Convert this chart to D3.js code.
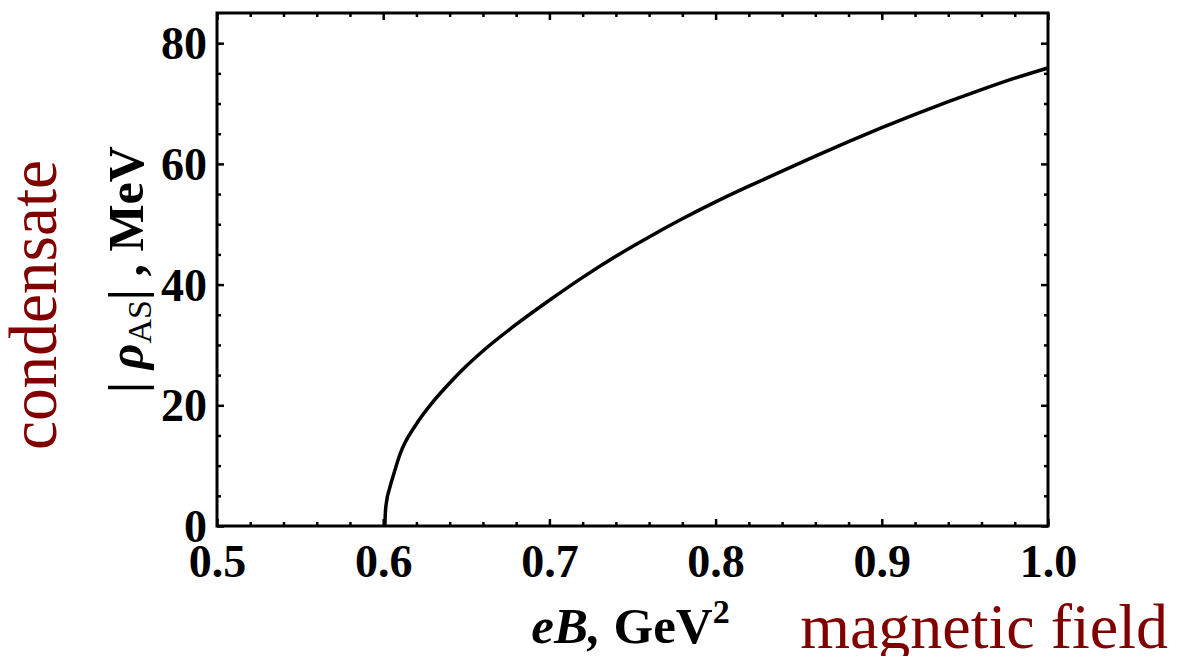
<!DOCTYPE html>
<html>
<head>
<meta charset="utf-8">
<script src="https://cdn.jsdelivr.net/npm/d3@7"></script>
<style>
  body { margin: 0; background: #fff; }
  svg { display: block; }
  .tick text { font-family: "Liberation Serif", serif; font-weight: bold; }
</style>
</head>
<body>
<svg width="1180" height="656"></svg>
<script>
// curve: eB (GeV^2) vs |rho_AS| (MeV)
var eB  = [0.601, 0.6013, 0.602, 0.604, 0.607, 0.610, 0.620, 0.630, 0.640, 0.650, 0.660, 0.680,
           0.700, 0.720, 0.740, 0.760, 0.780, 0.800, 0.820, 0.840, 0.860, 0.880,
           0.900, 0.920, 0.940, 0.960, 0.980, 1.000];
var rho = [0, 2.2, 4.0, 6.4, 9.2, 11.8, 16.9, 20.6, 23.7, 26.5, 29.0, 33.4,
           37.4, 41.2, 44.7, 47.9, 50.9, 53.7, 56.3, 58.8, 61.3, 63.7,
           66.0, 68.2, 70.3, 72.3, 74.2, 75.9];

var xTicks = [0.5, 0.6, 0.7, 0.8, 0.9, 1.0];
var yTicks = [0, 20, 40, 60, 80];
var xDomain = [0.5, 1.0];
var yDomain = [0, 85];

var svg = d3.select("svg"),
    margin = {top: 13, right: 132, bottom: 130, left: 217},
    width = +svg.attr("width") - margin.left - margin.right,
    height = +svg.attr("height") - margin.top - margin.bottom,
    g = svg.append("g").attr("transform", "translate(" + margin.left + "," + margin.top + ")");

var x = d3.scaleLinear().domain(xDomain).range([0, width]);
var y = d3.scaleLinear().domain(yDomain).range([height, 0]);

var xMinor = d3.range(0.52, 1.0, 0.02).filter(function(v) { return Math.abs(v * 10 - Math.round(v * 10)) > 1e-6; });
var yMinor = d3.range(5, 85, 5).filter(function(v) { return v % 20 !== 0; });

function styleAxis(sel) {
  sel.select(".domain").remove();
  sel.selectAll(".tick line").attr("stroke", "#000").attr("stroke-width", 2.5);
}

// minor ticks, all four sides
g.append("g").attr("transform", "translate(0," + height + ")")
  .call(d3.axisBottom(x).tickValues(xMinor).tickSize(-4).tickFormat("")).call(styleAxis);
g.append("g")
  .call(d3.axisTop(x).tickValues(xMinor).tickSize(-4).tickFormat("")).call(styleAxis);
g.append("g")
  .call(d3.axisLeft(y).tickValues(yMinor).tickSize(-4).tickFormat("")).call(styleAxis);
g.append("g").attr("transform", "translate(" + width + ",0)")
  .call(d3.axisRight(y).tickValues(yMinor).tickSize(-4).tickFormat("")).call(styleAxis);

// major ticks
g.append("g").attr("transform", "translate(0," + height + ")")
  .call(d3.axisBottom(x).tickValues(xTicks).tickSize(-7).tickFormat(d3.format(".1f")))
  .call(styleAxis)
  .selectAll("text")
    .attr("font-size", 46)
    .attr("fill", "#000")
    .attr("y", 51)
    .attr("dy", 0);
g.append("g")
  .call(d3.axisTop(x).tickValues(xTicks).tickSize(-7).tickFormat("")).call(styleAxis);
g.append("g")
  .call(d3.axisLeft(y).tickValues(yTicks).tickSize(-7).tickFormat(d3.format("d")))
  .call(styleAxis)
  .selectAll("text")
    .attr("font-size", 46)
    .attr("fill", "#000")
    .attr("x", -10)
    .attr("dy", "0.34em");
g.append("g").attr("transform", "translate(" + width + ",0)")
  .call(d3.axisRight(y).tickValues(yTicks).tickSize(-7).tickFormat("")).call(styleAxis);

// frame
g.append("rect")
  .attr("width", width)
  .attr("height", height)
  .attr("fill", "none")
  .attr("stroke", "#000")
  .attr("stroke-width", 3);

var line = d3.line()
  .x(function(d, i) { return x(eB[i]); })
  .y(function(d) { return y(d); })
  .curve(d3.curveMonotoneX);

g.append("path")
  .datum(rho)
  .attr("fill", "none")
  .attr("stroke", "#000")
  .attr("stroke-width", 3.5)
  .attr("stroke-linejoin", "round")
  .attr("d", line);

// axis titles
var xt = svg.append("text")
  .attr("x", margin.left + width / 2 - 2)
  .attr("y", 643)
  .attr("text-anchor", "middle")
  .attr("font-family", "Liberation Serif, serif")
  .attr("font-weight", "bold")
  .attr("font-size", 51);
xt.append("tspan").attr("font-style", "italic").text("eB,");
xt.append("tspan").text(" GeV");
xt.append("tspan").attr("font-size", 34).attr("dy", -20).text("2");

var yt = svg.append("text")
  .attr("transform", "translate(143," + (margin.top + height / 2) + ") rotate(-90)")
  .attr("text-anchor", "middle")
  .attr("font-family", "Liberation Serif, serif")
  .attr("font-weight", "bold")
  .attr("font-size", 50);
yt.append("tspan").text("| ");
yt.append("tspan").attr("font-style", "italic").text("ρ");
yt.append("tspan").attr("font-size", 34).attr("font-weight", "normal").attr("dy", 8).text("AS");
yt.append("tspan").attr("dy", -8).text("| , MeV");

// red annotations
svg.append("text")
  .attr("transform", "translate(56,305) rotate(-90)")
  .attr("text-anchor", "middle")
  .attr("font-family", "Liberation Serif, serif")
  .attr("font-size", 68)
  .attr("textLength", 290)
  .attr("lengthAdjust", "spacingAndGlyphs")
  .attr("fill", "#800000")
  .text("condensate");

svg.append("text")
  .attr("x", 1168)
  .attr("y", 648)
  .attr("text-anchor", "end")
  .attr("font-family", "Liberation Serif, serif")
  .attr("font-size", 64)
  .attr("fill", "#800000")
  .text("magnetic field");
</script>
</body>
</html>
